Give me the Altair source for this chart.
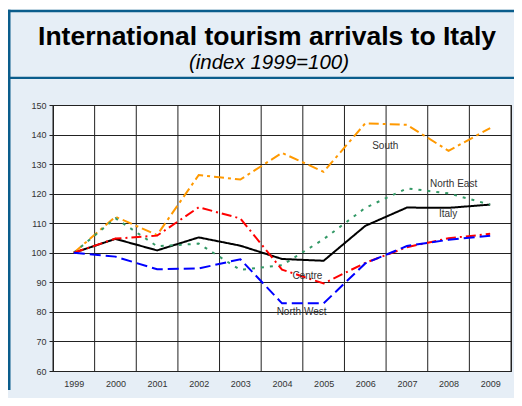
import altair as alt
import pandas as pd

years = [1999, 2000, 2001, 2002, 2003, 2004, 2005, 2006, 2007, 2008, 2009]
italy = [100, 104.7, 100.8, 105.2, 102.4, 97.9, 97.3, 109.1, 115.3, 115.2, 116.3]
south = [100, 112.2, 106.0, 126.3, 124.8, 133.8, 127.4, 143.8, 143.3, 134.5, 142.2]
north_east = [100, 111.7, 102.2, 103.1, 94.2, 95.8, 104.6, 115.2, 121.8, 120.1, 116.3]
centre = [100, 104.8, 105.8, 115.4, 111.6, 94.3, 89.6, 96.6, 101.9, 104.9, 106.4]
north_west = [100, 98.7, 94.4, 94.7, 97.8, 82.9, 82.9, 96.4, 102.3, 104.4, 105.8]

series_names = ["Italy", "South", "North East", "Centre", "North West"]
series_values = [italy, south, north_east, centre, north_west]
series_colors = ["#000000", "#ff9900", "#339966", "#ff0000", "#0000ff"]
series_dashes = [[1, 0], [10, 4, 3, 4], [3, 6], [10, 4, 2, 4], [11, 5]]

label_text = ["South", "North East", "Italy", "Centre", "North West"]
label_year = [2006.48, 2008.12, 2007.99, 2004.61, 2004.47]
label_value = [136.0, 123.2, 113.0, 92.0, 80.1]

y_ticks = [60, 70, 80, 90, 100, 110, 120, 130, 140, 150]

title_text = "International tourism arrivals to Italy"
subtitle_text = "(index 1999=100)"

rows = []
for name, vals in zip(series_names, series_values):
    for yr, v in zip(years, vals):
        rows.append({"year": yr, "value": v, "series": name})
df = pd.DataFrame(rows)

bounds = pd.DataFrame({"b": [y - 0.5 for y in years] + [years[-1] + 0.5]})
labels = pd.DataFrame({"text": label_text, "year": label_year, "value": label_value})
one = pd.DataFrame({"k": [0]})
titles = pd.DataFrame({"t": [title_text]})
subtitles = pd.DataFrame({"t": [subtitle_text]})

W, H = 458, 266
xscale = alt.Scale(domain=[1998.5, 2009.5], nice=False, zero=False)
yscale = alt.Scale(domain=[60, 150], nice=False, zero=False)

xaxis = alt.Axis(values=years, format="d", grid=False, ticks=False,
                 domain=True, domainColor="#222222", labelPadding=8,
                 labelFontSize=9, labelColor="#333333", title=None)
yaxis = alt.Axis(values=y_ticks, grid=True, gridColor="#222222", gridWidth=1,
                 tickSize=4, tickColor="#222222", domainColor="#222222",
                 labelOverlap=False, labelBound=False, format="d",
                 labelPadding=3, labelFontSize=9, labelColor="#333333", title=None)

dark = "#0a5d8c"

def rect(x, x2, y, y2, color):
    return alt.Chart(one).mark_rect(color=color, strokeWidth=0).encode(
        x=alt.value(x), x2=alt.value(x2), y=alt.value(y), y2=alt.value(y2)
    )

deco = (
    rect(-45, 461, -97, -95.3, "white")
    + rect(-45, 461, -95.3, -92.8, dark)
    + rect(-45, 461, -28.3, -26, dark)
    + rect(-45, -42.5, -95.3, 285, dark)
)

title_mark = alt.Chart(titles).mark_text(
    fontSize=26.5, fontWeight="bold", color="#000000", align="center", baseline="alphabetic"
).encode(x=alt.value(214), y=alt.value(-60), text="t:N")

subtitle_mark = alt.Chart(subtitles).mark_text(
    fontSize=20.5, fontStyle="italic", color="#000000", align="center", baseline="alphabetic"
).encode(x=alt.value(216), y=alt.value(-36), text="t:N")

vgrid = alt.Chart(bounds).mark_rule(color="#222222", strokeWidth=1).encode(
    x=alt.X("b:Q", scale=xscale, axis=xaxis)
)

lines = alt.Chart(df).mark_line(strokeWidth=2).encode(
    x=alt.X("year:Q", scale=xscale, axis=xaxis),
    y=alt.Y("value:Q", scale=yscale, axis=yaxis),
    color=alt.Color("series:N", scale=alt.Scale(domain=series_names, range=series_colors), legend=None),
    strokeDash=alt.StrokeDash("series:N", scale=alt.Scale(domain=series_names, range=series_dashes), legend=None),
    order=alt.Order("year:Q"),
)

text = alt.Chart(labels).mark_text(fontSize=10, color="#333333", align="center", baseline="middle").encode(
    x=alt.X("year:Q", scale=xscale, axis=xaxis),
    y=alt.Y("value:Q", scale=yscale, axis=yaxis),
    text="text:N",
)

chart = (deco + title_mark + subtitle_mark + vgrid + lines + text).properties(
    width=W, height=H,
    autosize=alt.AutoSizeParams(type="none"),
    padding={"left": 45, "top": 97, "right": 3, "bottom": 27},
).configure(
    background="#e6eef6",
    font="Liberation Sans",
).configure_view(fill="white", stroke="#222222", strokeWidth=1)

chart.save("out.html", embed_options={"renderer": "svg", "actions": False})
